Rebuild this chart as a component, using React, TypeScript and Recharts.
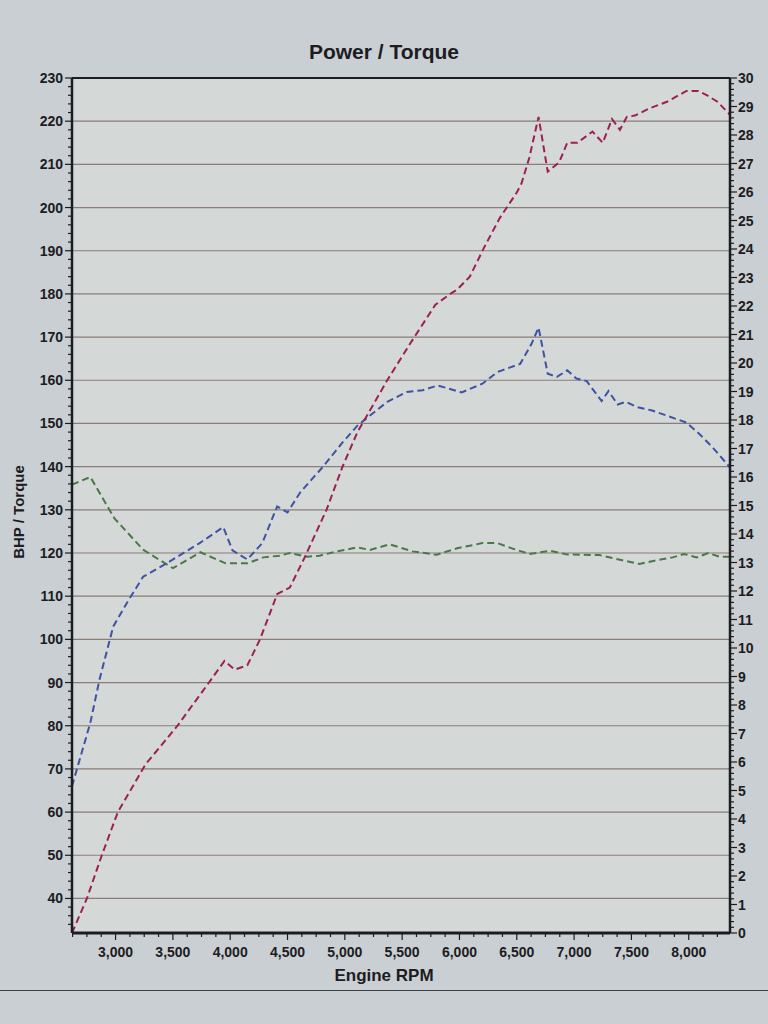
import { LineChart, Line, XAxis, YAxis, ReferenceLine, CartesianGrid } from 'recharts';

// readings off the dyno sheet (rpm / value pairs per trace)
const powerRpm = [2620, 2750, 2880, 3020, 3260, 3540, 3760, 3950, 4040, 4150, 4260, 4410, 4520, 4650, 4840, 4980, 5110, 5175, 5370, 5570, 5790, 5920, 5980, 6090, 6220, 6350, 6500, 6540, 6610, 6690, 6770, 6870, 6940, 7030, 7160, 7250, 7330, 7400, 7460, 7530, 7660, 7810, 7980, 8080, 8160, 8250, 8360];
const powerBhp = [32, 40, 50, 60, 71, 80, 88, 95, 93, 94, 100, 110.5, 112, 119, 130, 140, 148, 151, 160, 168.5, 177.5, 180, 181, 184, 191, 197.5, 203.5, 205.5, 211.6, 221, 208.3, 210.5, 215, 215, 217.6, 215, 220.5, 218, 221, 221.3, 223, 224.5, 227, 227, 226, 224.5, 221.5];

const torqueRpm = [2620, 2780, 2860, 2980, 3100, 3240, 3470, 3740, 3940, 4020, 4150, 4280, 4410, 4500, 4610, 4810, 4980, 5110, 5180, 5370, 5540, 5680, 5810, 6020, 6200, 6330, 6530, 6630, 6690, 6770, 6850, 6940, 7020, 7110, 7240, 7300, 7380, 7450, 7550, 7680, 7810, 7980, 8100, 8210, 8360];
const torqueVal = [66, 80.7, 90.7, 103, 108.5, 114.5, 118, 122.4, 126, 120.6, 118.5, 122.3, 130.8, 129.4, 134, 140, 145.6, 149.5, 151, 155, 157.3, 157.7, 158.8, 157.2, 159.2, 161.9, 163.8, 168.5, 172.2, 161.5, 160.8, 162.3, 160.4, 159.8, 155.2, 157.5, 154.4, 155, 153.8, 153, 151.8, 150.2, 147.4, 144.4, 139.8];

const afrRpm = [2620, 2780, 2990, 3240, 3500, 3740, 3960, 4150, 4290, 4430, 4520, 4670, 4780, 4930, 5110, 5220, 5390, 5590, 5800, 5980, 6200, 6330, 6470, 6610, 6790, 6940, 7220, 7420, 7570, 7720, 7860, 7960, 8070, 8170, 8270, 8360];
const afrVal = [15.73, 16.0, 14.55, 13.45, 12.8, 13.36, 12.97, 12.97, 13.18, 13.24, 13.33, 13.2, 13.24, 13.39, 13.53, 13.44, 13.64, 13.39, 13.27, 13.5, 13.68, 13.68, 13.48, 13.3, 13.41, 13.28, 13.26, 13.08, 12.95, 13.08, 13.18, 13.3, 13.18, 13.33, 13.2, 13.2];

const rpmMajor = [3000, 3500, 4000, 4500, 5000, 5500, 6000, 6500, 7000, 7500, 8000];
const bhpMajor = [40, 50, 60, 70, 80, 90, 100, 110, 120, 130, 140, 150, 160, 170, 180, 190, 200, 210, 220, 230];

const rpmTicks = Array.from({ length: 46 }, (_, i) => 2625 + i * 125);
const bhpTicks = Array.from({ length: 99 }, (_, i) => 34 + i * 2);
const afrTicks = Array.from({ length: 151 }, (_, i) => Math.round(i * 2) / 10);

const toRows = (xs: number[], ys: number[]) => xs.map((rpm, i) => ({ rpm, v: ys[i] }));
const powerData = toRows(powerRpm, powerBhp);
const torqueData = toRows(torqueRpm, torqueVal);
const afrData = toRows(afrRpm, afrVal);

const FONT = 'Arial, "Liberation Sans", sans-serif';
const INK = '#1c1c22';

const LeftTick = (p: any) => {
  const v = p.payload.value;
  const major = bhpMajor.includes(v);
  return (
    <g>
      <line x1={p.x - (major ? 7 : 4)} x2={p.x} y1={p.y} y2={p.y} stroke={INK} strokeWidth={1.2} />
      {major && (
        <text x={p.x - 9} y={p.y} dy={5} textAnchor="end" fontFamily={FONT} fontWeight="bold" fontSize={14} fill={INK}>
          {v}
        </text>
      )}
    </g>
  );
};

const RightTick = (p: any) => {
  const v = p.payload.value;
  const major = Math.abs(v - Math.round(v)) < 1e-6;
  return (
    <g>
      <line x1={p.x} x2={p.x + (major ? 7 : 4)} y1={p.y} y2={p.y} stroke={INK} strokeWidth={1.2} />
      {major && (
        <text x={p.x + 8} y={p.y} dy={5} textAnchor="start" fontFamily={FONT} fontWeight="bold" fontSize={14} fill={INK}>
          {Math.round(v)}
        </text>
      )}
    </g>
  );
};

const BottomTick = (p: any) => {
  const v = p.payload.value;
  const major = rpmMajor.includes(v);
  return (
    <g>
      <line x1={p.x} x2={p.x} y1={p.y} y2={p.y + (major ? 7 : 4)} stroke={INK} strokeWidth={1.2} />
      {major && (
        <text x={p.x} y={p.y + 24} textAnchor="middle" fontFamily={FONT} fontWeight="bold" fontSize={14} fill={INK}>
          {v.toLocaleString('en-US')}
        </text>
      )}
    </g>
  );
};

export default function App() {
  return (
    <div style={{ position: 'absolute', left: 0, top: 0, width: 768, height: 1024, background: '#c9cfd2', overflow: 'hidden' }}>
      <div style={{ position: 'absolute', left: 0, width: 768, top: 40, textAlign: 'center', fontFamily: FONT, fontWeight: 'bold', fontSize: 21, color: INK }}>
        Power / Torque
      </div>
      <div
        style={{
          position: 'absolute', left: 18, top: 512, transform: 'translate(-50%, -50%) rotate(-90deg)',
          fontFamily: FONT, fontWeight: 'bold', fontSize: 15, color: INK, whiteSpace: 'nowrap',
        }}
      >
        BHP / Torque
      </div>
      <div style={{ position: 'absolute', left: 0, width: 768, top: 966, textAlign: 'center', fontFamily: FONT, fontWeight: 'bold', fontSize: 17, color: INK }}>
        Engine RPM
      </div>
      <div style={{ position: 'absolute', left: 0, width: 768, top: 990, height: 1, background: '#3a4048' }} />

      <div style={{ position: 'absolute', left: 0, top: 0 }}>
        <LineChart width={768} height={1024} margin={{ top: 78, right: 0, bottom: 31, left: 22 }}>
          <CartesianGrid horizontal={false} vertical={false} fill="#d4d8d7" yAxisId="l" />
          <XAxis
            dataKey="rpm"
            type="number"
            domain={[2620, 8360]}
            allowDataOverflow
            ticks={rpmTicks}
            interval={0}
            tick={<BottomTick />}
            tickSize={0}
            tickMargin={0}
            tickLine={false}
            axisLine={{ stroke: INK, strokeWidth: 3 }}
            height={60}
          />
          <YAxis
            yAxisId="l"
            domain={[32, 230]}
            allowDataOverflow
            ticks={bhpTicks}
            interval={0}
            tick={<LeftTick />}
            tickSize={0}
            tickMargin={0}
            tickLine={false}
            axisLine={{ stroke: INK, strokeWidth: 2.5 }}
            width={50}
          />
          <YAxis
            yAxisId="r"
            orientation="right"
            domain={[0, 30]}
            allowDataOverflow
            ticks={afrTicks}
            interval={0}
            tick={<RightTick />}
            tickSize={0}
            tickMargin={0}
            tickLine={false}
            axisLine={{ stroke: INK, strokeWidth: 2.5 }}
            width={38}
          />
          {bhpMajor.slice(0, -1).map((v) => (
            <ReferenceLine key={v} yAxisId="l" y={v} stroke="#8b7d78" strokeWidth={1.2} />
          ))}
          <ReferenceLine yAxisId="l" y={230} stroke={INK} strokeWidth={2} />
          <Line
            yAxisId="r"
            data={afrData}
            dataKey="v"
            type="linear"
            stroke="#4a7849"
            strokeWidth={2}
            strokeDasharray="7 4"
            dot={false}
            isAnimationActive={false}
          />
          <Line
            yAxisId="l"
            data={torqueData}
            dataKey="v"
            type="linear"
            stroke="#3f52a3"
            strokeWidth={2}
            strokeDasharray="7 4"
            dot={false}
            isAnimationActive={false}
          />
          <Line
            yAxisId="l"
            data={powerData}
            dataKey="v"
            type="linear"
            stroke="#9c1f55"
            strokeWidth={2}
            strokeDasharray="7 4"
            dot={false}
            isAnimationActive={false}
          />
        </LineChart>
      </div>
    </div>
  );
}
